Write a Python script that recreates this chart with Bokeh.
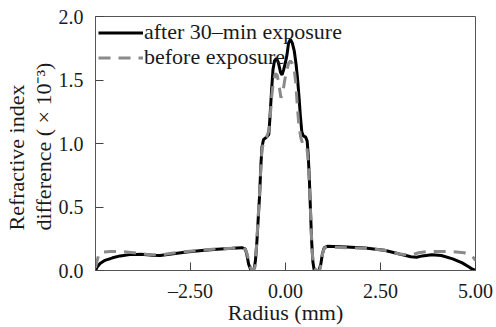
from bokeh.plotting import figure
from bokeh.models import FixedTicker, CustomJSTickFormatter, Range1d, Title, Legend, LegendItem
from bokeh.embed import file_html
from bokeh.resources import INLINE

after_x = [-5.0, -4.95, -4.88, -4.75, -4.55, -4.35, -4.1, -3.8, -3.5, -3.3, -3.0, -2.6, -2.2, -1.8, -1.4,
           -1.15, -1.06, -1.02, -0.97, -0.92, -0.86, -0.82, -0.79, -0.75, -0.71, -0.68, -0.65, -0.62, -0.58,
           -0.5, -0.44, -0.41, -0.37, -0.33, -0.29, -0.24, -0.19, -0.13, -0.09, -0.05, 0.0, 0.04, 0.08, 0.13,
           0.18, 0.23, 0.28, 0.32, 0.36, 0.39, 0.43, 0.47, 0.53, 0.57, 0.6, 0.63, 0.66, 0.69, 0.72, 0.75, 0.8,
           0.88, 0.93, 0.97, 1.02, 1.1, 1.6, 2.1, 2.6, 3.0, 3.3, 3.45, 3.6, 3.85, 4.1, 4.4, 4.65, 4.82, 4.92, 5.0]
after_y = [0.0, 0.03, 0.055, 0.08, 0.10, 0.115, 0.125, 0.128, 0.12, 0.118, 0.13, 0.145, 0.158, 0.168, 0.175,
           0.18, 0.17, 0.13, 0.05, 0.01, 0.0, 0.02, 0.08, 0.24, 0.45, 0.6, 0.82, 0.97, 1.03,
           1.05, 1.07, 1.2, 1.4, 1.58, 1.65, 1.67, 1.64, 1.56, 1.54, 1.58, 1.64, 1.7, 1.79, 1.82,
           1.79, 1.73, 1.62, 1.5, 1.35, 1.22, 1.09, 1.06, 1.05, 1.02, 0.9, 0.7, 0.45, 0.22, 0.07, 0.01, 0.0,
           0.0, 0.05, 0.13, 0.18, 0.19, 0.185, 0.178, 0.16, 0.13, 0.108, 0.105, 0.115, 0.124, 0.118, 0.092,
           0.06, 0.03, 0.01, 0.0]

before_x = [-5.0, -4.97, -4.92, -4.85, -4.6, -4.3, -4.0, -3.6, -3.3, -3.0, -2.6, -2.2, -1.8, -1.4, -1.15,
            -1.05, -1.0, -0.95, -0.9, -0.85, -0.8, -0.76, -0.72, -0.68, -0.65, -0.62, -0.57, -0.5, -0.44,
            -0.4, -0.36, -0.32, -0.27, -0.22, -0.17, -0.12, -0.07, -0.02, 0.03, 0.08, 0.13, 0.18, 0.23, 0.27,
            0.31, 0.35, 0.4, 0.45, 0.52, 0.56, 0.6, 0.63, 0.66, 0.69, 0.72, 0.76, 0.82, 0.9, 0.94, 0.98, 1.03,
            1.1, 1.6, 2.1, 2.6, 3.0, 3.3, 3.5, 3.75, 4.1, 4.4, 4.7, 4.85, 4.95, 5.0]
before_y = [0.02, 0.065, 0.118, 0.145, 0.15, 0.15, 0.14, 0.125, 0.122, 0.135, 0.15, 0.16, 0.17, 0.175, 0.178,
            0.165, 0.12, 0.05, 0.01, 0.0, 0.03, 0.2, 0.42, 0.62, 0.8, 0.95, 1.02, 1.05, 1.1,
            1.22, 1.38, 1.48, 1.55, 1.54, 1.46, 1.36, 1.4, 1.5, 1.57, 1.63, 1.65, 1.63, 1.58, 1.48,
            1.3, 1.15, 1.05, 1.0, 0.99, 0.98, 0.85, 0.68, 0.45, 0.22, 0.08, 0.02, 0.0, 0.0, 0.05, 0.14, 0.18,
            0.185, 0.18, 0.175, 0.16, 0.13, 0.12, 0.14, 0.15, 0.15, 0.148, 0.14, 0.125, 0.1, 0.08]

x_ticks = [-2.5, 0.0, 2.5, 5.0]
y_ticks = [0.0, 0.5, 1.0, 1.5, 2.0]
labels = ["after 30\u2013min exposure", "before exposure"]
x_label = "Radius (mm)"
y_label_lines = ["Refractive index", "difference ( \u00d7 10\u207b\u00b3)"]

FONT = "Liberation Serif"
TXT = "#1a1a1a"

p = figure(width=496, height=327, output_backend="svg", toolbar_location=None,
           x_range=Range1d(-5, 5), y_range=Range1d(0, 2),
           min_border_left=95, min_border_right=21, min_border_top=16, min_border_bottom=57)
p.grid.visible = False
p.outline_line_color = "#555555"
p.outline_line_width = 1

r_after = p.line(after_x, after_y, line_color="black", line_width=3)
r_before = p.line(before_x, before_y, line_color="#8a8a8a", line_width=3, line_dash="12 8")

for ax in (p.xaxis[0], p.yaxis[0]):
    ax.major_tick_in = 8
    ax.major_tick_out = 0
    ax.minor_tick_line_color = None
    ax.axis_line_color = "#555555"
    ax.major_tick_line_color = "#444444"
    ax.major_label_text_font = FONT
    ax.major_label_text_font_size = "20px"
    ax.major_label_text_color = TXT
    ax.axis_label_text_font = FONT
    ax.axis_label_text_font_size = "22px"
    ax.axis_label_text_font_style = "normal"
    ax.axis_label_text_color = TXT

p.xaxis.ticker = FixedTicker(ticks=x_ticks)
p.yaxis.ticker = FixedTicker(ticks=y_ticks)
p.xaxis.formatter = CustomJSTickFormatter(code="return tick.toFixed(2).replace('-', '\u2013');")
p.yaxis.formatter = CustomJSTickFormatter(code="return tick.toFixed(1);")
p.xaxis.axis_label = x_label
p.xaxis.major_label_standoff = 9
p.xaxis.axis_label_standoff = -5
p.yaxis.major_label_standoff = 12

for txt in reversed(y_label_lines):
    t = Title(text=txt, align="left", offset=40, text_font=FONT, text_font_size="22px",
              text_font_style="normal", text_color=TXT, standoff=0)
    p.add_layout(t, "left")

for lab, rend, loc in ((labels[0], r_after, (3, 225)), (labels[1], r_before, (3, 200))):
    lg = Legend(items=[LegendItem(label=lab, renderers=[rend])], location=loc,
                background_fill_alpha=0, border_line_alpha=0, margin=0, padding=0, spacing=0,
                glyph_width=45, glyph_height=21, label_height=21, label_standoff=1,
                label_text_font=FONT, label_text_font_size="22px", label_text_color=TXT)
    p.add_layout(lg, "center")

open("out.html", "w").write(file_html(p, INLINE))
